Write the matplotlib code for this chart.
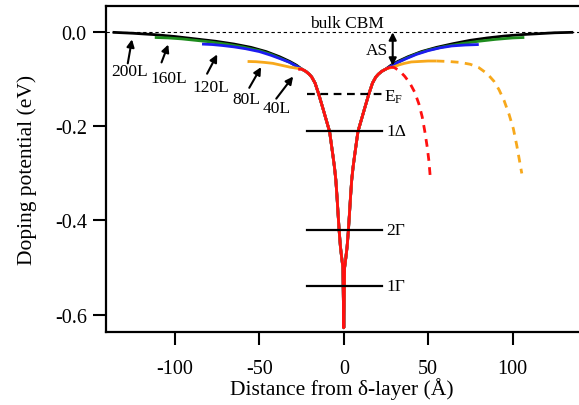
import matplotlib
matplotlib.use("Agg")
import matplotlib.pyplot as plt

plt.rcParams['font.family'] = ['Liberation Serif', 'DejaVu Serif']
plt.rcParams['mathtext.fontset'] = 'stix'

# ---------------- data ----------------
# shared quantum-well core (hidden under the red curve for wide layers)
well_z = [-25, -22.5, -20.5, -19, -17, -14.8, -12.5, -10.5, -8.4, -6.5, -5.5, -4.7, -4.0, -3.3, -2.7, -2.0, -1.2, -0.5, 0.0,
          0.5, 1.2, 2.0, 2.7, 3.3, 4.0, 4.7, 5.5, 6.5, 8.4, 10.5, 12.5, 14.8, 17, 19, 20.5, 22.5, 25]
well_v = [-0.078, -0.083, -0.089, -0.095, -0.108, -0.132, -0.160, -0.185, -0.211, -0.260, -0.287, -0.314, -0.350, -0.390, -0.423, -0.455, -0.480, -0.500, -0.628,
          -0.500, -0.480, -0.455, -0.423, -0.390, -0.350, -0.314, -0.287, -0.260, -0.211, -0.185, -0.160, -0.132, -0.108, -0.095, -0.089, -0.083, -0.078]

# 200L (black)
z200_left = [-137, -125, -112, -100, -88, -76, -65, -55, -46, -38, -32, -28]
v200_left = [0.000, -0.002, -0.005, -0.009, -0.014, -0.019, -0.025, -0.032, -0.041, -0.052, -0.062, -0.070]
z200_right = [28, 32, 38, 46, 55, 65, 75, 85, 95, 105, 115, 125, 136]
v200_right = [-0.070, -0.062, -0.052, -0.041, -0.032, -0.024, -0.017, -0.012, -0.008, -0.005, -0.003, -0.001, 0.000]

# 160L (green)
z160_left = [-112, -104, -96, -88, -80, -70, -60, -50, -43, -37, -32, -28]
v160_left = [-0.011, -0.012, -0.014, -0.017, -0.020, -0.025, -0.031, -0.039, -0.047, -0.056, -0.064, -0.072]
z160_right = [28, 32, 37, 43, 50, 60, 70, 80, 90, 100, 107]
v160_right = [-0.072, -0.064, -0.055, -0.046, -0.038, -0.030, -0.024, -0.019, -0.015, -0.012, -0.011]

# 120L (blue)
z120_left = [-84, -78, -72, -65, -58, -50, -43, -37, -32, -28]
v120_left = [-0.025, -0.026, -0.028, -0.031, -0.035, -0.041, -0.049, -0.057, -0.064, -0.072]
z120_right = [28, 32, 37, 43, 50, 57, 64, 72, 80]
v120_right = [-0.072, -0.064, -0.056, -0.047, -0.039, -0.033, -0.029, -0.027, -0.026]

# 80L (orange)
z80_left = [-57, -52, -47, -42, -37, -32]
v80_left = [-0.062, -0.0625, -0.064, -0.066, -0.070, -0.074]
z80_right = [30, 33, 36, 40, 45, 50, 55]
v80_right = [-0.073, -0.069, -0.066, -0.063, -0.062, -0.061, -0.061]
z80_dash = [55, 62, 69, 75, 80, 85, 89, 92, 95, 98, 100.5, 102.5, 104, 105.5]
v80_dash = [-0.061, -0.062, -0.064, -0.068, -0.075, -0.088, -0.104, -0.122, -0.145, -0.175, -0.205, -0.240, -0.270, -0.300]

# 40L (red)
z40_left = [-27]
v40_left = [-0.079]
z40_right = [27.5]
v40_right = [-0.074]
z40_dash = [27.5, 30, 33, 36, 39, 42, 44.5, 46.5, 48, 49.5, 50.5, 51.3]
v40_dash = [-0.074, -0.075, -0.082, -0.093, -0.107, -0.127, -0.152, -0.180, -0.210, -0.245, -0.275, -0.310]

# energy levels
level_labels = [r'E$_\mathregular{F}$', '1\u0394', '2\u0393', '1\u0393']
level_values = [-0.131, -0.209, -0.420, -0.540]
level_z0, level_z1 = -21.5, 22.5

# thickness labels: (text position, arrow tail, arrow head)
thick_labels = ['200L', '160L', '120L', '80L', '40L']
thick_text_z = [-127, -104, -79, -57.5, -40]
thick_text_v = [-0.083, -0.098, -0.116, -0.141, -0.160]
thick_tail_z = [-128, -108, -81, -56, -40]
thick_tail_v = [-0.066, -0.064, -0.088, -0.118, -0.141]
thick_head_z = [-125.5, -104, -75, -49, -30]
thick_head_v = [-0.015, -0.026, -0.047, -0.074, -0.094]

as_z = 29
as_v = [0.0, -0.071]

# ---------------- figure ----------------
fig = plt.figure(figsize=(5.79, 4.06), dpi=100)
ax = fig.add_axes([105.5/579, (406-333)/406, (579-105.5)/579, (333-7)/406])

lw = 2.0
col_black, col_green, col_blue = '#000000', '#1e8c1e', '#1c1cf0'
col_orange, col_red = '#f7a81b', '#ff1010'

ax.axhline(0.0, color='black', lw=0.8, ls=(0, (3, 2.5)), zorder=1)

def wing_plot(zl, vl, zr, vr, color, wz, wv, z=2):
    ax.plot(zl + wz + zr, vl + wv + vr, color=color, lw=lw, solid_capstyle='butt', zorder=z)

wing_plot(z200_left, v200_left, z200_right, v200_right, col_black, well_z, well_v, 2)
wing_plot(z160_left, v160_left, z160_right, v160_right, col_green, well_z, well_v, 3)
wing_plot(z120_left, v120_left, z120_right, v120_right, col_blue, well_z, well_v, 4)
wing_plot(z80_left, v80_left, z80_right, v80_right, col_orange, well_z, well_v, 5)
ax.plot(z80_dash, v80_dash, color=col_orange, lw=lw, ls=(0, (2.8, 2.3)), zorder=5)
wing_plot(z40_left, v40_left, z40_right, v40_right, col_red, well_z, well_v, 6)
ax.plot(z40_dash, v40_dash, color=col_red, lw=lw, ls=(0, (2.8, 2.3)), zorder=6)

# levels
for i, (lab, val) in enumerate(zip(level_labels, level_values)):
    if i == 0:
        ax.plot([level_z0, level_z1], [val, val], color='black', lw=1.6,
                ls=(0, (3.5, 2.5)), zorder=7)
        ax.text(level_z1 + 1.5, val - 0.004, lab, fontsize=12.5, ha='left', va='center')
    else:
        ax.plot([level_z0, level_z1], [val, val], color='black', lw=1.6, zorder=7)
        ax.text(level_z1 + 2.5, val, lab, fontsize=12.5, ha='left', va='center')

# thickness labels with arrows
for lab, tz, tv, az, av, hz, hv in zip(thick_labels, thick_text_z, thick_text_v,
                                       thick_tail_z, thick_tail_v, thick_head_z, thick_head_v):
    ax.text(tz, tv, lab, fontsize=12.5, ha='center', va='center')
    ax.annotate('', xy=(hz, hv), xytext=(az, av),
                arrowprops=dict(arrowstyle='-|>', color='black', lw=1.5,
                                mutation_scale=11, shrinkA=0, shrinkB=0), zorder=8)

# AS arrow
ax.annotate('', xy=(as_z, as_v[1]), xytext=(as_z, as_v[0]),
            arrowprops=dict(arrowstyle='<|-|>', color='black', lw=1.5,
                            mutation_scale=11, shrinkA=0, shrinkB=0), zorder=8)
ax.text(as_z - 3, -0.038, 'AS', fontsize=12.5, ha='right', va='center')
ax.text(2, 0.020, 'bulk CBM', fontsize=12.5, ha='center', va='center')

ax.set_xlim(-141.2, 139.4)
ax.set_ylim(-0.637, 0.0559)
ax.set_xticks([-100, -50, 0, 50, 100])
ax.set_xticklabels(['-100', '-50', '0', '50', '100'])
ax.set_yticks([0.0, -0.2, -0.4, -0.6])
ax.set_yticklabels(['0.0', '-0.2', '-0.4', '-0.6'])
ax.tick_params(direction='out', length=9.5, width=1.5, labelsize=14.5)
ax.tick_params(axis='x', pad=10)
ax.tick_params(axis='y', pad=4)
for s in ['left', 'bottom', 'top']:
    ax.spines[s].set_linewidth(1.6)
ax.spines['right'].set_visible(False)

ax.set_xlabel('Distance from \u03b4-layer (\u00c5)', fontsize=15.5, labelpad=-1)
ax.set_ylabel('Doping potential (eV)', fontsize=15.5, labelpad=13)

fig.savefig('out.png', dpi=100)
